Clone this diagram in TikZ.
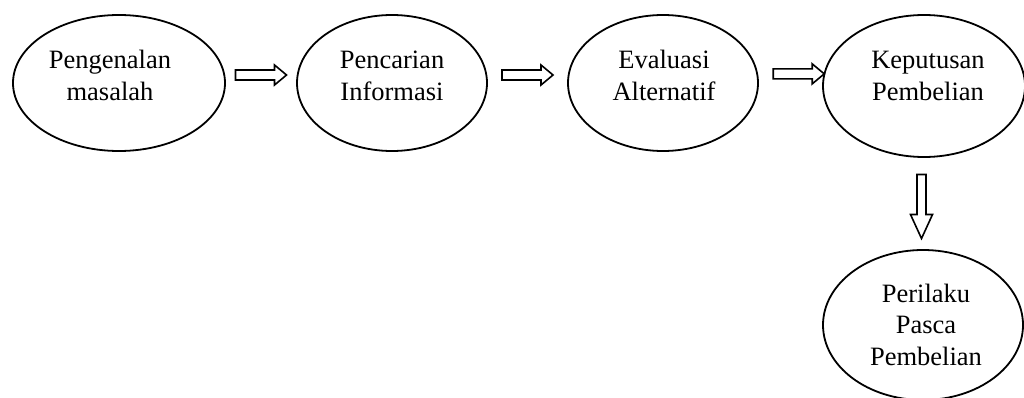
\documentclass[tikz,border=0pt]{standalone}
\usepackage{fontspec}
\setmainfont{Liberation Serif}
\usetikzlibrary{shapes.geometric,calc}
\begin{document}
\begin{tikzpicture}[x=1pt,y=1pt,
  stage/.style={draw, ellipse, line width=1.8pt, inner sep=0pt},
  lbl/.style={align=center, inner sep=0pt, font=\fontsize{26.5}{31.5}\selectfont},
  arrowline/.style={draw, line width=1.6pt, line join=miter},
  pics/harr/.style={code={\draw[arrowline] (-25.5,-5) -- (13.5,-5) -- (13.5,-10) -- (25.5,0) -- (13.5,10) -- (13.5,5) -- (-25.5,5) -- cycle;}},
  pics/varr/.style={code={\draw[arrowline] (-4.5,32) -- (-4.5,-8) -- (-11,-8) -- (0,-32) -- (11,-8) -- (4.5,-8) -- (4.5,32) -- cycle;}}]
\useasboundingbox (0,0) rectangle (1024,397);
\clip (0,0) rectangle (1024,397);
\node[stage, minimum width=212, minimum height=136] (e1) at (119,314) {};
\node[stage, minimum width=190, minimum height=136] (e2) at (392,314) {};
\node[stage, minimum width=190, minimum height=136] (e3) at (663,314) {};
\node[stage, minimum width=202, minimum height=142] (e4) at (924,311) {};
\node[stage, minimum width=200, minimum height=150] (e5) at (923,72) {};
\node[lbl, anchor=base] (t1) at (110,297) {Pengenalan\\masalah};
\node[lbl, anchor=base] (t2) at (392,297) {Pencarian\\Informasi};
\node[lbl, anchor=base] (t3) at (664,297) {Evaluasi\\Alternatif};
\node[lbl, anchor=base] (t4) at (928,297) {Keputusan\\Pembelian};
\node[lbl, anchor=base] (t5) at (926,32) {Perilaku\\Pasca\\Pembelian};
\coordinate (a1) at ($(e1.east)!0.5!(e2.west)+(0,8)$);
\coordinate (a2) at ($(e2.east)!0.5!(e3.west)+(0,8)$);
\coordinate (a3) at ($(e3.east)!0.63!(e4.west)+(0,11)$);
\coordinate (a4) at ($(e4.south)!0.5!(e5.north)+(-2,-3)$);
\pic at (a1) {harr};
\pic at (a2) {harr};
\pic at (a3) {harr};
\pic at (a4) {varr};
\end{tikzpicture}
\end{document}
